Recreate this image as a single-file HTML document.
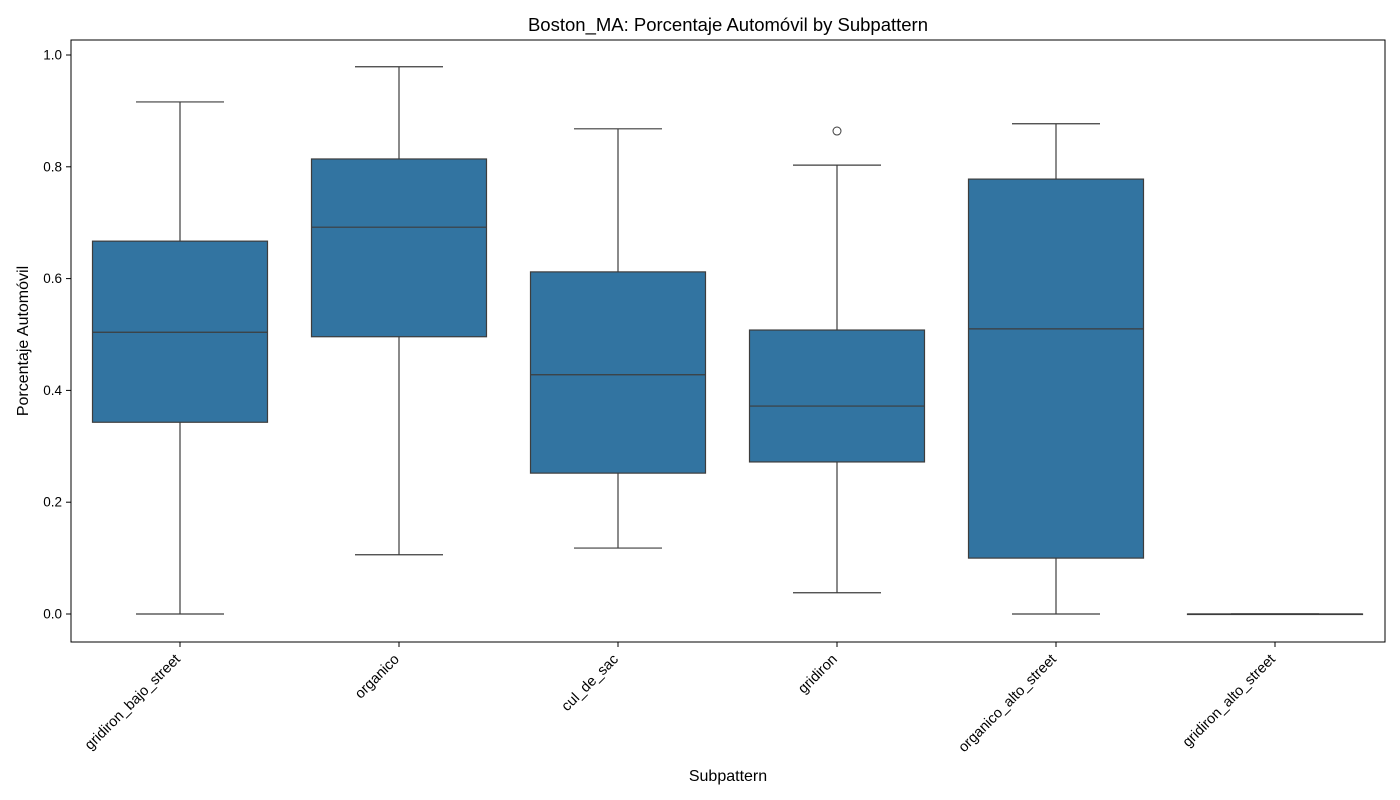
<!DOCTYPE html>
<html><head><meta charset="utf-8"><style>
body{margin:0;background:#fff;}
svg{display:block;font-family:"Liberation Sans","DejaVu Sans",sans-serif;}
</style></head><body>
<svg id="chart" width="1400" height="800">
<text x="728" y="31" font-size="18.5" text-anchor="middle">Boston_MA: Porcentaje Automóvil by Subpattern</text>
<text x="728" y="781" font-size="16" text-anchor="middle">Subpattern</text>
<text transform="translate(28,341) rotate(-90)" font-size="16" text-anchor="middle">Porcentaje Automóvil</text>
<g id="plot"></g>
<rect x="71" y="40" width="1314" height="602" fill="none" stroke="#000" stroke-width="1"/>
</svg>
<script>
const categories=["gridiron_bajo_street","organico","cul_de_sac","gridiron","organico_alto_street","gridiron_alto_street"];
const whiskerLow=[0,0.106,0.118,0.038,0,0];
const q1=[0.343,0.496,0.252,0.272,0.1,0];
const median=[0.504,0.692,0.428,0.372,0.51,0];
const q3=[0.667,0.814,0.612,0.508,0.778,0];
const whiskerHigh=[0.916,0.979,0.868,0.803,0.877,0];
const outliers=[[],[],[],[0.864],[],[]];
const yTicks=[0,0.2,0.4,0.6,0.8,1.0];
const yTickLabels=["0.0","0.2","0.4","0.6","0.8","1.0"];

const NS="http://www.w3.org/2000/svg";
const g=document.getElementById('plot');
const y=v=>614-v*559;
const x=i=>180+i*219;
function mk(t,a){const e=document.createElementNS(NS,t);for(const k in a)e.setAttribute(k,a[k]);g.appendChild(e);return e;}
yTicks.forEach((v,i)=>{
 const l=mk('line',{x1:66,x2:71,y1:y(v),y2:y(v),stroke:'#000'});
 
 
 const t=mk('text',{x:62,y:y(v)+4.5,'font-size':13.5,'text-anchor':'end'});
 t.textContent=yTickLabels[i];
 
 
});
categories.forEach((c,i)=>{
 const cx=x(i),bw=175,cw=88,col='#3d3d3d';
 const tk=mk('line',{x1:cx,x2:cx,y1:642,y2:647,stroke:'#000'});
 
 
 const t=mk('text',{x:0,y:0,'font-size':14.5,'text-anchor':'end',transform:`translate(${cx+1},${660}) rotate(-45)`});
 t.textContent=c;
 
 
 const w1=mk('line',{x1:cx,x2:cx,y1:y(whiskerLow[i]),y2:y(q1[i]),stroke:col,'stroke-width':1.2});
 
 
 const w2=mk('line',{x1:cx,x2:cx,y1:y(q3[i]),y2:y(whiskerHigh[i]),stroke:col,'stroke-width':1.2});
 
 
 const c1=mk('line',{x1:cx-cw/2,x2:cx+cw/2,y1:y(whiskerLow[i]),y2:y(whiskerLow[i]),stroke:col,'stroke-width':1.2});
 
 
 const c2=mk('line',{x1:cx-cw/2,x2:cx+cw/2,y1:y(whiskerHigh[i]),y2:y(whiskerHigh[i]),stroke:col,'stroke-width':1.2});
 
 
 const b=mk('rect',{x:cx-bw/2,y:y(q3[i]),width:bw,height:Math.max(0.5,y(q1[i])-y(q3[i])),fill:'#3274a1',stroke:col,'stroke-width':1.2});
 
 
 const m=mk('line',{x1:cx-bw/2,x2:cx+bw/2,y1:y(median[i]),y2:y(median[i]),stroke:col,'stroke-width':1.2});
 
 
 outliers[i].forEach(v=>{
  const o=mk('circle',{cx:cx,cy:y(v),r:4,fill:'none',stroke:col,'stroke-width':1});
  
  
 });
});
</script>
</body></html>
